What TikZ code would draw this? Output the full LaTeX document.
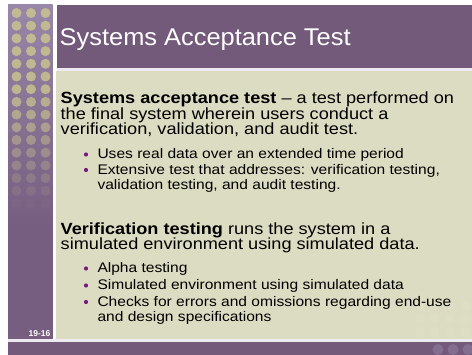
\documentclass[tikz,border=0pt]{standalone}
\usepackage{fontspec}
\setmainfont{Liberation Sans}
\newfontfamily\bodyfont[FakeStretch=1.12,Ligatures=TeX]{Liberation Sans}
\newfontfamily\titlefont[FakeStretch=1.05]{Liberation Sans}
\definecolor{barpurple}{HTML}{735A7B}
\definecolor{strippurple}{HTML}{765E80}
\definecolor{striplight}{HTML}{9787A8}
\definecolor{dotyellow}{HTML}{D2CF8C}
\definecolor{beige}{HTML}{DCDCC2}
\definecolor{bulletpurple}{HTML}{7A1A7E}
\definecolor{sepline}{HTML}{ECEAF0}
\begin{document}
\begin{tikzpicture}[x=1pt,y=-1pt,
  bodytext/.style={anchor=base west,inner sep=0pt,font=\bodyfont\fontsize{16.2}{16.2}\selectfont},
  bullettext/.style={anchor=base west,inner sep=0pt,font=\bodyfont\fontsize{13.9}{13.9}\selectfont},
  bulletdot/.style={circle,fill=bulletpurple,inner sep=0pt,minimum size=4.2pt}]
\useasboundingbox (0,0) rectangle (472,355);
\fill[white] (0,0) rectangle (472,355);
% left strip
\shade[top color=striplight,bottom color=strippurple] (8,5) rectangle (52.5,225);
\fill[strippurple] (8,224) rectangle (52.5,339.5);
\foreach \r in {0,...,16}{
  \pgfmathsetmacro{\op}{\r<7 ? 0.72 : 0.72-0.075*(\r-6)}
  \foreach \c in {16.5,31,45.5}{
    \fill[dotyellow,opacity=\op] (\c,{13+12.7*\r}) circle (5);
  }
}
% title bar
\fill[barpurple] (56.5,5) rectangle (472,68);
\fill[sepline] (56.5,68) rectangle (472,71);
% content area
\fill[beige] (55.5,71) rectangle (472,339.5);
\foreach \r in {0,1,2}{
  \foreach \c in {420,435,450,465}{
    \fill[white,opacity=0.06] (\c,{306+13*\r}) circle (5);
  }
}
% bottom band
\fill[sepline] (8,339.5) rectangle (472,342.5);
\fill[barpurple] (8,342.5) rectangle (472,355);
\foreach \c in {438,453,468}{
  \fill[striplight,opacity=0.45] (\c,349.5) circle (5.5);
}
% texts
\node[anchor=base west,inner sep=0pt,text=white,font=\titlefont\fontsize{24.2}{24.2}\selectfont] (title) at (59.5,45.5) {Systems Acceptance Test};
\node[bodytext] (l1) at (60.5,103.3) {\textbf{Systems acceptance test} – a test performed on};
\node[bodytext] (l2) at (60.5,119.3) {the final system wherein users conduct a};
\node[bodytext] (l3) at (60.5,134.8) {verification, validation, and audit test.};
\node[bulletdot] (b1) at (86,154.5) {};
\node[bullettext] (t1) at (97.3,159) {Uses real data over an extended time period};
\node[bulletdot] (b2) at (86,170) {};
\node[bullettext] (t2) at (97.3,174.5) {Extensive test that addresses: verification testing,};
\node[bullettext] (t2b) at (97.3,190) {validation testing, and audit testing.};
\node[bodytext] (l4) at (60.5,234.3) {\textbf{Verification testing} runs the system in a};
\node[bodytext] (l5) at (60.5,249.8) {simulated environment using simulated data.};
\node[bulletdot] (b3) at (86,268.5) {};
\node[bullettext] (t3) at (97.3,273) {Alpha testing};
\node[bulletdot] (b4) at (86,285.5) {};
\node[bullettext] (t4) at (97.3,290) {Simulated environment using simulated data};
\node[bulletdot] (b5) at (86,302) {};
\node[bullettext] (t5) at (97.3,306.5) {Checks for errors and omissions regarding end-use};
\node[bullettext] (t5b) at (97.3,321.5) {and design specifications};
\node[anchor=base east,inner sep=0pt,text=white,font=\fontsize{8.5}{8.5}\selectfont\bfseries] (num) at (50.5,336.5) {19-16};
\end{tikzpicture}
\end{document}
